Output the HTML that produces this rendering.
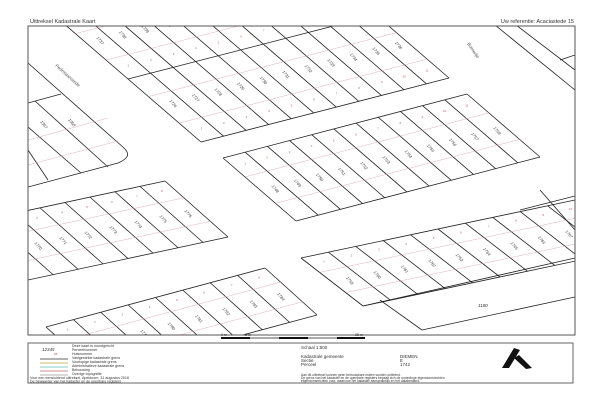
<!DOCTYPE html>
<html><head><meta charset="utf-8"><style>
html,body{margin:0;padding:0;background:#fff;width:600px;height:400px;overflow:hidden}
svg{display:block}
text{font-family:"Liberation Sans",sans-serif}
</style></head><body>
<svg id="s" width="600" height="400" viewBox="0 0 600 400" xmlns="http://www.w3.org/2000/svg">
<defs><clipPath id="c"><rect x="28" y="26" width="547" height="309"/></clipPath></defs>
<text x="30" y="23" font-size="5.5" fill="#333">Uittreksel Kadastrale Kaart</text>
<text x="574" y="23" font-size="5.5" fill="#333" text-anchor="end">Uw referentie: Acaciastede 15</text>
<g id="map" clip-path="url(#c)" stroke="#222" stroke-width="0.8" fill="none">
<path d="M28,63 L124,148 Q130,154 126,158 Q123,161 118,163 L28,187" />
<path d="M28,103 L61,94" />
<path d="M35,101 L108,167" />
<path d="M28,127 L81,173" />
<path d="M28,150 L48,180" />
<path d="M28,140 L108,118" stroke="#d9a" stroke-width="0.4"/>
<path d="M28,165 L118,141" stroke="#d9a" stroke-width="0.4"/>
</g>
<rect x="28" y="26" width="547" height="309" fill="none" stroke="#555" stroke-width="1"/>
<text x="467" y="44" font-size="4.5" fill="#555" transform="rotate(55 467 44)">Bomerije</text>
<text x="55" y="66" font-size="4.5" fill="#555" transform="rotate(42 55 66)">Pedrolaanstede</text>
<text x="40" y="122" font-size="4" fill="#333" font-style="italic" transform="rotate(50 40 122)">1367</text>
<text x="68" y="120" font-size="4" fill="#333" font-style="italic" transform="rotate(50 68 120)">1368</text>
<text x="478" y="307" font-size="4.5" fill="#333" font-style="italic">1180</text>
<g font-size="3.5" fill="#333">
<text x="221" y="336">0 m</text><text x="245" y="336">5 m</text><text x="355" y="336">25 m</text>
</g>
<rect x="221" y="337" width="29" height="2" fill="#111"/>
<rect x="250" y="337" width="29" height="2" fill="#aaa"/>
<rect x="279" y="337" width="29" height="2" fill="#111"/>
<rect x="308" y="337" width="29" height="2" fill="#aaa"/>
<rect x="337" y="337" width="28" height="2" fill="#111"/>
<rect x="28" y="343" width="545" height="40" fill="none" stroke="#666" stroke-width="1"/>
<g font-size="3.6" fill="#333">
<text x="42" y="351" font-style="italic" font-size="4.5">12345</text>
<text x="54" y="355" fill="#c44" font-size="3">25</text>
<text x="72" y="347">Deze kaart is noordgericht</text>
<text x="72" y="351">Perceelnummer</text>
<text x="72" y="355">Huisnummer</text>
<text x="72" y="359">Vastgestelde kadastrale grens</text>
<text x="72" y="363">Voorlopige kadastrale grens</text>
<text x="72" y="367">Administratieve kadastrale grens</text>
<text x="72" y="371">Bebouwing</text>
<text x="72" y="375">Overige topografie</text>
<text x="30" y="379">Voor een eensluidend uittreksel, Apeldoorn, 31 augustus 2018</text>
<text x="30" y="382.5">De bewaarder van het kadaster en de openbare registers</text>
<text x="301" y="349" font-size="4.5">Schaal 1:500</text>
<text x="301" y="358" font-size="4.5">Kadastrale gemeente</text>
<text x="301" y="362" font-size="4.5">Sectie</text>
<text x="301" y="366" font-size="4.5">Perceel</text>
<text x="400" y="358" font-size="4.5">DIEMEN</text>
<text x="400" y="362" font-size="4.5">E</text>
<text x="400" y="366" font-size="4.5">1742</text>
<text x="301" y="376" font-size="3.3">Aan dit uittreksel kunnen geen betrouwbare maten worden ontleend.</text>
<text x="301" y="379" font-size="3.3">De grens van het kadaster en de openbare registers bepaalt zich de onderlinge eigendomsrechten</text>
<text x="301" y="382" font-size="3.3">eigendomsrechten voor, waarvoor het kadaster aansprakelijk en het databestand.</text>
</g>
<g stroke="#444" stroke-width="0.8">
<line x1="40" y1="359" x2="68" y2="359" stroke="#333"/>
<line x1="40" y1="363" x2="68" y2="363" stroke="#c9a33a"/>
<line x1="40" y1="367" x2="68" y2="367" stroke="#6bb"/>
<line x1="40" y1="371" x2="68" y2="371" stroke="#b66"/>
<line x1="40" y1="375" x2="68" y2="375" stroke="#999"/>
</g>
<polygon points="502,368 514,348 520,350 509,368" fill="#111"/>
<polygon points="514,358 519,355 532,368 526,369" fill="#111"/>
</svg>
<script>
var g=document.getElementById('map'),NS='http://www.w3.org/2000/svg';
function el(t,a,txt){var e=document.createElementNS(NS,t);for(var k in a)e.setAttribute(k,a[k]);if(txt)e.textContent=txt;g.appendChild(e);return e;}
function L(a,b,c){el('line',{x1:a[0],y1:a[1],x2:b[0],y2:b[1],stroke:c||'#222','stroke-width':c?0.4:0.8});}
function P(A,E,D,t,s){return [A[0]+E[0]*t+D[0]*s,A[1]+E[1]*t+D[1]*s];}
var lab=1726;
function block(A,E,D,n,rows){
 var r=rows||1;
 L(A,P(A,E,D,1,0));L(P(A,E,D,1,0),P(A,E,D,1,r));L(A,P(A,E,D,0,r));L(P(A,E,D,0,r),P(A,E,D,1,r));
 for(var k=1;k<r;k++)L(P(A,E,D,0,k),P(A,E,D,1,k));
 for(var i=1;i<n;i++)L(P(A,E,D,i/n,0),P(A,E,D,i/n,r));
 for(var k=0;k<r;k++){
  L(P(A,E,D,0,k+0.3),P(A,E,D,1,k+0.3),'#d9a');
  L(P(A,E,D,0,k+0.72),P(A,E,D,1,k+0.72),'#d9a');
  for(var i=0;i<n;i++){
   var q=P(A,E,D,(i+0.5)/n,k+0.55);
   el('text',{x:q[0],y:q[1],'font-size':4,fill:'#333','font-style':'italic',stroke:'none','text-anchor':'middle',transform:'rotate(50 '+q[0]+' '+q[1]+')'},String(lab++));
   var h=P(A,E,D,(i+0.5)/n,k+0.15);
   el('text',{x:h[0],y:h[1],'font-size':3,fill:'#c55',stroke:'none','text-anchor':'middle'},String(i+1));
  }
 }
}
block([201,142],[248,-64],[-73,-63],11,2);
block([223,158],[244,-64],[73,63],11,1);
block([301,258],[274,-58],[62,48],10,1);
L([363,306],[575,258]);L([422,330],[575,297]);L([380,300],[422,330]);
block([-35,224],[200,-43],[63,56],8,1);
block([46,327],[219,-59],[52,47],8,1);
L([516,25],[575,70]);L([495,25],[575,90]);L([560,60],[575,55]);
L([520,210],[575,196]);L([540,190],[575,230]);
</script>
</body></html>
